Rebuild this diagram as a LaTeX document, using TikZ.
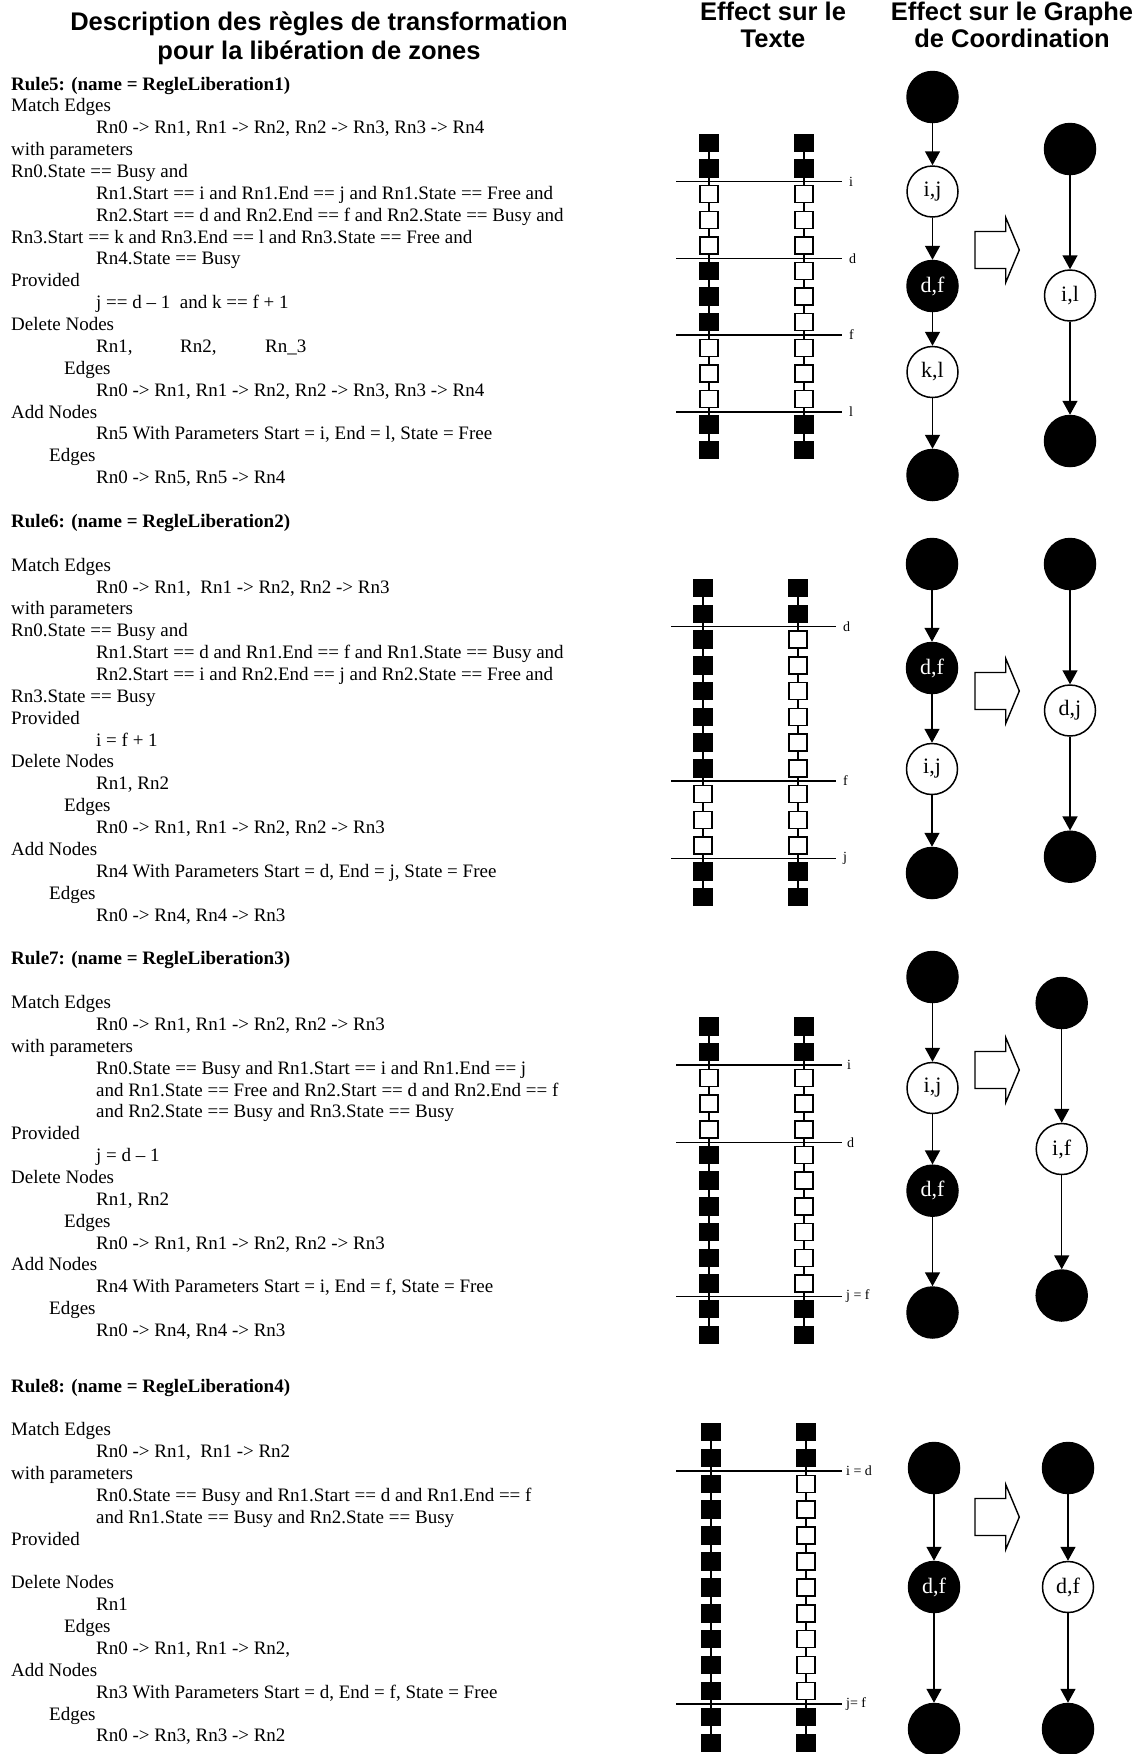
\documentclass[tikz,border=0pt]{standalone}
\usepackage{fontspec}
\setmainfont{Liberation Serif}
\newfontfamily\headfont{Liberation Sans}
\usetikzlibrary{arrows.meta}
\colorlet{b}{black}
\colorlet{w}{white}

% chain of cells: name, x, first y, pitch, fill list
\newcommand{\sqchain}[5]{%
  \foreach \col [count=\idx from 0] in {#5}
    \node[sq, fill=\col] (#1\idx) at (#2,{#3+#4*\idx}) {};
  \foreach \idx [remember=\idx as \prev (initially 0)] in {1,...,12}
    \draw[link] (#1\prev) -- (#1\idx);
}

\begin{document}
\begin{tikzpicture}[x=1pt,y=-1pt,
  head/.style={anchor=base, inner sep=0, font=\headfont\bfseries\fontsize{25.5}{30}\selectfont},
  ruletxt/.style={anchor=base west, inner sep=0, font=\fontsize{19}{21.87}\selectfont},
  sq/.style={rectangle, draw=black, line width=1.5pt, minimum width=18pt, minimum height=17pt, inner sep=0},
  link/.style={line width=1.2pt},
  cut/.style={line width=1.4pt},
  cutlbl/.style={anchor=west, inner sep=0, font=\fontsize{14}{16}\selectfont},
  busy/.style={circle, draw=black, fill=black, text=white, line width=1.5pt, minimum size=51pt, inner sep=0, font=\fontsize{22}{24}\selectfont},
  free/.style={busy, fill=white, text=black},
  flow/.style={-{Triangle[length=14pt,width=15pt]}, line width=1.5pt},
  rewrite/.pic={\draw[line width=1.4pt, fill=white] (0,-18.5) -- (30.7,-18.5) -- (30.7,-32.5) -- (44.3,0) -- (30.7,32.5) -- (30.7,18.5) -- (0,18.5) -- cycle;}
]
  \fill[white] (0,0) rectangle (1143,1754);
  \useasboundingbox (0,0) rectangle (1143,1754);

  % headings
  \node[head] (title1) at (319,30) {Description des règles de transformation};
  \node[head] (title2) at (319,59) {pour la libération de zones};
  \node[head] (texte1) at (773,20) {Effect sur le};
  \node[head] (texte2) at (773,47) {Texte};
  \node[head] (graphe1) at (1012,20) {Effect sur le Graphe};
  \node[head] (graphe2) at (1012,47) {de Coordination};

  % rule texts
  \node[ruletxt] (r5txt) at (11,90) {\begin{tabular}[t]{@{}l@{}}
    \textbf{Rule5: (name = RegleLiberation1)}\\
    Match Edges\\
    \hspace*{85pt}Rn0 -> Rn1, Rn1 -> Rn2, Rn2 -> Rn3, Rn3 -> Rn4\\
    with parameters\\
    Rn0.State == Busy and\\
    \hspace*{85pt}Rn1.Start == i and Rn1.End == j and Rn1.State == Free and\\
    \hspace*{85pt}Rn2.Start == d and Rn2.End == f and Rn2.State == Busy and\\
    Rn3.Start == k and Rn3.End == l and Rn3.State == Free and\\
    \hspace*{85pt}Rn4.State == Busy\\
    Provided\\
    \hspace*{85pt}j == d – 1~~and k == f + 1\\
    Delete Nodes\\
    \hspace*{85pt}\makebox[84pt][l]{Rn1,}\makebox[85pt][l]{Rn2,}Rn\_3\\
    \hspace*{53pt}Edges\\
    \hspace*{85pt}Rn0 -> Rn1, Rn1 -> Rn2, Rn2 -> Rn3, Rn3 -> Rn4\\
    Add Nodes\\
    \hspace*{85pt}Rn5 With Parameters Start = i, End = l, State = Free\\
    \hspace*{38pt}Edges\\
    \hspace*{85pt}Rn0 -> Rn5, Rn5 -> Rn4
  \end{tabular}};
  \node[ruletxt] (r6txt) at (11,527.4) {\begin{tabular}[t]{@{}l@{}}
    \textbf{Rule6: (name = RegleLiberation2)}\\
    \\
    Match Edges\\
    \hspace*{85pt}Rn0 -> Rn1,~~Rn1 -> Rn2, Rn2 -> Rn3\\
    with parameters\\
    Rn0.State == Busy and\\
    \hspace*{85pt}Rn1.Start == d and Rn1.End == f and Rn1.State == Busy and\\
    \hspace*{85pt}Rn2.Start == i and Rn2.End == j and Rn2.State == Free and\\
    Rn3.State == Busy\\
    Provided\\
    \hspace*{85pt}i = f + 1\\
    Delete Nodes\\
    \hspace*{85pt}Rn1, Rn2\\
    \hspace*{53pt}Edges\\
    \hspace*{85pt}Rn0 -> Rn1, Rn1 -> Rn2, Rn2 -> Rn3\\
    Add Nodes\\
    \hspace*{85pt}Rn4 With Parameters Start = d, End = j, State = Free\\
    \hspace*{38pt}Edges\\
    \hspace*{85pt}Rn0 -> Rn4, Rn4 -> Rn3
  \end{tabular}};
  \node[ruletxt] (r7txt) at (11,964.8) {\begin{tabular}[t]{@{}l@{}}
    \textbf{Rule7: (name = RegleLiberation3)}\\
    \\
    Match Edges\\
    \hspace*{85pt}Rn0 -> Rn1, Rn1 -> Rn2, Rn2 -> Rn3\\
    with parameters\\
    \hspace*{85pt}Rn0.State == Busy and Rn1.Start == i and Rn1.End == j\\
    \hspace*{85pt}and Rn1.State == Free and Rn2.Start == d and Rn2.End == f\\
    \hspace*{85pt}and Rn2.State == Busy and Rn3.State == Busy\\
    Provided\\
    \hspace*{85pt}j = d – 1\\
    Delete Nodes\\
    \hspace*{85pt}Rn1, Rn2\\
    \hspace*{53pt}Edges\\
    \hspace*{85pt}Rn0 -> Rn1, Rn1 -> Rn2, Rn2 -> Rn3\\
    Add Nodes\\
    \hspace*{85pt}Rn4 With Parameters Start = i, End = f, State = Free\\
    \hspace*{38pt}Edges\\
    \hspace*{85pt}Rn0 -> Rn4, Rn4 -> Rn3
  \end{tabular}};
  \node[ruletxt] (r8txt) at (11,1392) {\begin{tabular}[t]{@{}l@{}}
    \textbf{Rule8: (name = RegleLiberation4)}\\
    \\
    Match Edges\\
    \hspace*{85pt}Rn0 -> Rn1,~~Rn1 -> Rn2\\
    with parameters\\
    \hspace*{85pt}Rn0.State == Busy and Rn1.Start == d and Rn1.End == f\\
    \hspace*{85pt}and Rn1.State == Busy and Rn2.State == Busy\\
    Provided\\
    \\
    Delete Nodes\\
    \hspace*{85pt}Rn1\\
    \hspace*{53pt}Edges\\
    \hspace*{85pt}Rn0 -> Rn1, Rn1 -> Rn2,\\
    Add Nodes\\
    \hspace*{85pt}Rn3 With Parameters Start = d, End = f, State = Free\\
    \hspace*{38pt}Edges\\
    \hspace*{85pt}Rn0 -> Rn3, Rn3 -> Rn2
  \end{tabular}};

  % effect on the text
  \sqchain{s5l}{709}{143}{25.6}{b,b,w,w,w,b,b,b,w,w,w,b,b}
  \sqchain{s5r}{804}{143}{25.6}{b,b,w,w,w,w,w,w,w,w,w,b,b}
  \draw[cut] (676,181.5) -- (842,181.5);
  \draw[cut] (676,258.3) -- (842,258.3);
  \draw[cut] (676,335) -- (842,335);
  \draw[cut] (676,412) -- (842,412);
  \node[cutlbl] (c5i) at (849,181.5) {i};
  \node[cutlbl] (c5d) at (849,258.3) {d};
  \node[cutlbl] (c5f) at (849,335) {f};
  \node[cutlbl] (c5l) at (849,412) {l};

  \sqchain{s6l}{703}{588}{25.75}{b,b,b,b,b,b,b,b,w,w,w,b,b}
  \sqchain{s6r}{798}{588}{25.75}{b,b,w,w,w,w,w,w,w,w,w,b,b}
  \draw[cut] (671,626.6) -- (836,626.6);
  \draw[cut] (671,781) -- (836,781);
  \draw[cut] (671,858.3) -- (836,858.3);
  \node[cutlbl] (c6d) at (843,626.6) {d};
  \node[cutlbl] (c6f) at (843,781) {f};
  \node[cutlbl] (c6j) at (843,858.3) {j};

  \sqchain{s7l}{709}{1026.5}{25.7}{b,b,w,w,w,b,b,b,b,b,b,b,b}
  \sqchain{s7r}{804}{1026.5}{25.7}{b,b,w,w,w,w,w,w,w,w,w,b,b}
  \draw[cut] (676,1065) -- (842,1065);
  \draw[cut] (676,1142.2) -- (842,1142.2);
  \draw[cut] (676,1296.3) -- (842,1296.3);
  \node[cutlbl] (c7i) at (847,1065) {i};
  \node[cutlbl] (c7d) at (847,1142.2) {d};
  \node[cutlbl] (c7jf) at (846,1296.3) {j = f};

  \sqchain{s8l}{711}{1432}{25.9}{b,b,b,b,b,b,b,b,b,b,b,b,b}
  \sqchain{s8r}{806}{1432}{25.9}{b,b,w,w,w,w,w,w,w,w,w,b,b}
  \draw[cut] (676,1470.9) -- (842,1470.9);
  \draw[cut] (676,1704) -- (842,1704);
  \node[cutlbl] (c8id) at (846,1470.9) {i = d};
  \node[cutlbl] (c8jf) at (846,1704) {j= f};

  % effect on the coordination graph
  \node[busy] (g5a) at (932.5,97) {};
  \node[free] (g5b) at (932.5,191.5) {i,j};
  \node[busy] (g5c) at (932.5,286) {d,f};
  \node[free] (g5d) at (932.5,372) {k,l};
  \node[busy] (g5e) at (932.5,475) {};
  \draw[flow] (g5a) -- (g5b);
  \draw[flow] (g5b) -- (g5c);
  \draw[flow] (g5c) -- (g5d);
  \draw[flow] (g5d) -- (g5e);
  \pic (rw5) at (975,250) {rewrite};
  \node[busy] (h5a) at (1070,149) {};
  \node[free] (h5b) at (1070,295.5) {i,l};
  \node[busy] (h5c) at (1070,441) {};
  \draw[flow] (h5a) -- (h5b);
  \draw[flow] (h5b) -- (h5c);

  \node[busy] (g6a) at (932,564) {};
  \node[busy] (g6b) at (932,668) {d,f};
  \node[free] (g6c) at (932,769) {i,j};
  \node[busy] (g6d) at (932,873) {};
  \draw[flow] (g6a) -- (g6b);
  \draw[flow] (g6b) -- (g6c);
  \draw[flow] (g6c) -- (g6d);
  \pic (rw6) at (975,691) {rewrite};
  \node[busy] (h6a) at (1070,564) {};
  \node[free] (h6b) at (1070,710.5) {d,j};
  \node[busy] (h6c) at (1070,856.7) {};
  \draw[flow] (h6a) -- (h6b);
  \draw[flow] (h6b) -- (h6c);

  \node[busy] (g7a) at (932.5,977) {};
  \node[free] (g7b) at (932.5,1088) {i,j};
  \node[busy] (g7c) at (932.5,1190.7) {d,f};
  \node[busy] (g7d) at (932.5,1312.5) {};
  \draw[flow] (g7a) -- (g7b);
  \draw[flow] (g7b) -- (g7c);
  \draw[flow] (g7c) -- (g7d);
  \pic (rw7) at (975,1070) {rewrite};
  \node[busy] (h7a) at (1061.7,1003) {};
  \node[free] (h7b) at (1061.7,1149) {i,f};
  \node[busy] (h7c) at (1061.7,1295.5) {};
  \draw[flow] (h7a) -- (h7b);
  \draw[flow] (h7b) -- (h7c);

  \node[busy] (g8a) at (934,1468) {};
  \node[busy] (g8b) at (934,1587) {d,f};
  \node[busy] (g8c) at (934,1729) {};
  \draw[flow] (g8a) -- (g8b);
  \draw[flow] (g8b) -- (g8c);
  \pic (rw8) at (975,1517) {rewrite};
  \node[busy] (h8a) at (1068,1468) {};
  \node[free] (h8b) at (1068,1587) {d,f};
  \node[busy] (h8c) at (1068,1729) {};
  \draw[flow] (h8a) -- (h8b);
  \draw[flow] (h8b) -- (h8c);
\end{tikzpicture}
\end{document}
